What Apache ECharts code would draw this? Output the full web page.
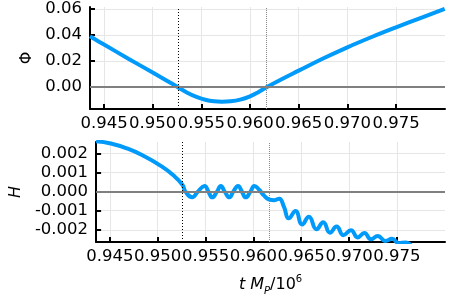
<!DOCTYPE html>
<html><head><meta charset="utf-8">
<script src="https://cdn.jsdelivr.net/npm/echarts@6/dist/echarts.min.js"></script>
<style>html,body{margin:0;padding:0;background:#fff}#c{width:450px;height:300px}</style>
</head><body><div id="c"></div>
<script>
// top panel: Phi vs t M_P / 10^6
const phiT = [0.94356, 0.9450, 0.9475, 0.9500, 0.9515, 0.9526, 0.9535, 0.9545, 0.9555, 0.9563, 0.9571, 0.9580, 0.9590, 0.9600, 0.9608, 0.9617, 0.9630, 0.9650, 0.9675, 0.9700, 0.9725, 0.9750, 0.9775, 0.9800];
const phiV = [0.0390, 0.0327, 0.0219, 0.0112, 0.0048, 0.0000, -0.0040, -0.0074, -0.0098, -0.0108, -0.0111, -0.0108, -0.0095, -0.0070, -0.0040, 0.0000, 0.0052, 0.0127, 0.0220, 0.0306, 0.0385, 0.0459, 0.0530, 0.0600];
// bottom panel: H vs t M_P / 10^6
const hT = [0.94356, 0.9451, 0.9468, 0.9485, 0.9502, 0.9516, 0.9526, 0.9529, 0.9536, 0.9542, 0.9549, 0.9553, 0.9557, 0.9562, 0.9566, 0.9570, 0.9575, 0.9579, 0.9584, 0.9588, 0.9592, 0.9597, 0.9601, 0.9606, 0.9611, 0.9616, 0.9622, 0.9627, 0.9632, 0.9637, 0.9644, 0.9651, 0.9658, 0.9666, 0.9673, 0.9680, 0.9687, 0.9694, 0.9702, 0.9709, 0.9716, 0.9723, 0.9730, 0.9738, 0.9745, 0.9752, 0.9759, 0.9770, 0.9800];
const hV = [0.00264, 0.00252, 0.00226, 0.00188, 0.00139, 0.00087, 0.00035, 0.0000, -0.00030, 0.0000, 0.00030, 0.0000, -0.00030, 0.0000, 0.00030, 0.0000, -0.00030, 0.0000, 0.00030, 0.0000, -0.00030, 0.0000, 0.00030, 0.00010, -0.00020, -0.00040, -0.00045, -0.00037, -0.00080, -0.00140, -0.00102, -0.00172, -0.00132, -0.00197, -0.00160, -0.00215, -0.00183, -0.00228, -0.00202, -0.00240, -0.00217, -0.00250, -0.00232, -0.00259, -0.00247, -0.00270, -0.00266, -0.0030, -0.0034];
// ticks and reference lines
const xTicks = [0.945, 0.950, 0.955, 0.960, 0.965, 0.970, 0.975];
const phiTicks = [0.00, 0.02, 0.04, 0.06];
const hTicks = [-0.002, -0.001, 0.000, 0.001, 0.002];
const vLines = [0.9526, 0.9617];
const zeroLine = 0;

const FONT = 'DejaVu Sans';
const FS = 16.5;
const chart = echarts.init(document.getElementById('c'), null, {renderer: 'canvas'});

function xAxisDef(grid, withName) {
  const ax = {
    type: 'value', gridIndex: grid, min: 0.94356, max: 0.98003,
    axisLine: {show: true, onZero: false, lineStyle: {color: '#000', width: 2}},
    axisTick: {show: true, inside: true, length: 5, customValues: xTicks, lineStyle: {color: '#000', width: 2}},
    axisLabel: {customValues: xTicks, formatter: v => v.toFixed(3), fontFamily: FONT, fontSize: FS, color: '#000', margin: 6},
    splitLine: {show: true, lineStyle: {color: '#e6e6e6', width: 1}}
  };
  if (withName) {
    ax.name = '{i|t M}{s|P}{n|/10}{p|6}';
    ax.nameLocation = 'middle';
    ax.nameGap = 32;
    ax.nameTextStyle = {
      fontFamily: FONT, fontSize: 16, color: '#000',
      rich: {
        i: {fontFamily: FONT, fontSize: 16, fontStyle: 'italic', color: '#000', lineHeight: 22},
        s: {fontFamily: FONT, fontSize: 10, fontStyle: 'italic', color: '#000', verticalAlign: 'bottom', lineHeight: 22},
        n: {fontFamily: FONT, fontSize: 16, color: '#000', lineHeight: 22},
        p: {fontFamily: FONT, fontSize: 10, color: '#000', verticalAlign: 'top', lineHeight: 22}
      }
    };
  }
  return ax;
}

function yAxisDef(grid, min, max, ticks, digits, name, gap, italic) {
  return {
    type: 'value', gridIndex: grid, min: min, max: max,
    name: name, nameLocation: 'middle', nameGap: gap,
    nameTextStyle: {fontFamily: FONT, fontSize: 16, color: '#000', fontStyle: italic ? 'italic' : 'normal'},
    axisLine: {show: true, onZero: false, lineStyle: {color: '#000', width: 2}},
    axisTick: {show: true, inside: true, length: 5, customValues: ticks, lineStyle: {color: '#000', width: 2}},
    axisLabel: {customValues: ticks, formatter: v => v.toFixed(digits), fontFamily: FONT, fontSize: FS, color: '#000', margin: 8},
    splitLine: {show: true, lineStyle: {color: '#e6e6e6', width: 1}}
  };
}

function marks() {
  return {
    silent: true, symbol: ['none', 'none'], label: {show: false}, precision: 6,
    data: [
      {yAxis: zeroLine, lineStyle: {color: '#808080', type: 'solid', width: 2}},
      {xAxis: vLines[0], lineStyle: {color: '#000', type: [1, 2], width: 1}},
      {xAxis: vLines[1], lineStyle: {color: '#888', type: [1, 1], width: 1}}
    ]
  };
}

chart.setOption({
  animation: false,
  backgroundColor: '#fff',
  grid: [
    {left: 90, width: 355, top: 7, height: 102, containLabel: false},
    {left: 90, width: 355, top: 142, height: 100, containLabel: false}
  ],
  xAxis: [xAxisDef(0, false), xAxisDef(1, true)],
  yAxis: [
    yAxisDef(0, -0.0167, 0.0615, phiTicks, 2, 'Φ', 55, false),
    yAxisDef(1, -0.00264, 0.0026, hTicks, 3, 'H', 72, true)
  ],
  series: [
    {type: 'line', xAxisIndex: 0, yAxisIndex: 0, showSymbol: false, smooth: 0.4,
     lineStyle: {color: '#009AFA', width: 4}, itemStyle: {color: '#009AFA'},
     data: phiT.map((t, i) => [t, phiV[i]]), markLine: marks()},
    {type: 'line', xAxisIndex: 1, yAxisIndex: 1, showSymbol: false, smooth: 0.5,
     lineStyle: {color: '#009AFA', width: 4}, itemStyle: {color: '#009AFA'},
     data: hT.map((t, i) => [t, hV[i]]), markLine: marks()}
  ]
});
</script>
</body></html>
